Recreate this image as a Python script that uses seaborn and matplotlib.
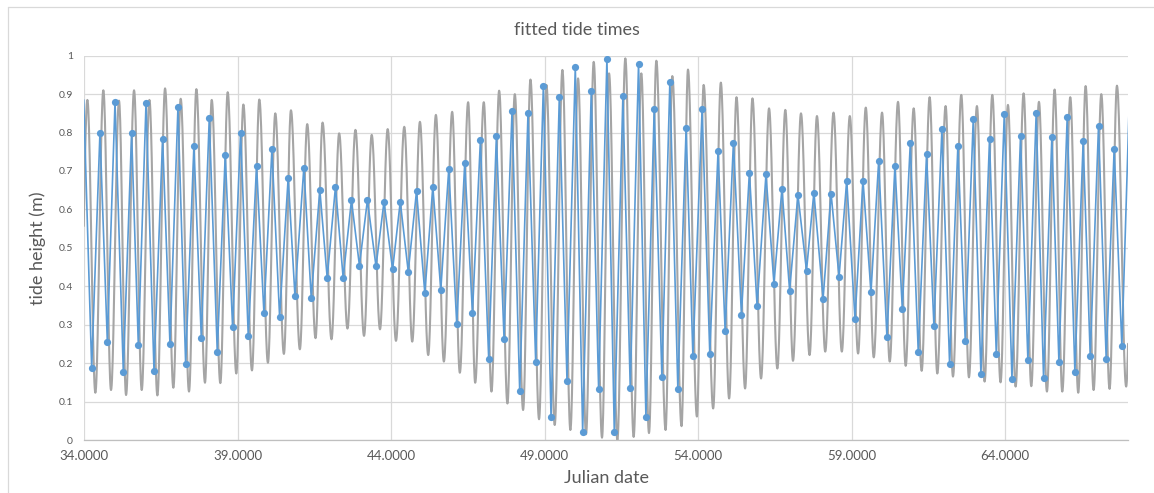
import numpy as np
import pandas as pd
import matplotlib
matplotlib.use("Agg")
import matplotlib.pyplot as plt
from matplotlib.lines import Line2D
import seaborn as sns

# Observed high / low water: time (Julian day) and height (m)
tide_time = [
    33.99, 34.25, 34.52, 34.76, 35.01, 35.28, 35.55, 35.77, 36.02, 36.28,
    36.56, 36.80, 37.06, 37.31, 37.58, 37.82, 38.08, 38.34, 38.60, 38.84,
    39.10, 39.35, 39.62, 39.86, 40.12, 40.37, 40.65, 40.87, 41.16, 41.40,
    41.68, 41.92, 42.19, 42.44, 42.71, 42.97, 43.23, 43.51, 43.77, 44.05,
    44.30, 44.56, 44.83, 45.10, 45.36, 45.62, 45.88, 46.14, 46.40, 46.65,
    46.91, 47.18, 47.43, 47.68, 47.94, 48.19, 48.46, 48.71, 48.96, 49.21,
    49.48, 49.73, 50.00, 50.24, 50.52, 50.76, 51.03, 51.27, 51.55, 51.79,
    52.06, 52.30, 52.57, 52.82, 53.08, 53.34, 53.61, 53.83, 54.13, 54.38,
    54.65, 54.88, 55.15, 55.41, 55.67, 55.92, 56.21, 56.47, 56.73, 56.98,
    57.25, 57.53, 57.77, 58.07, 58.33, 58.59, 58.84, 59.11, 59.37, 59.63,
    59.88, 60.15, 60.41, 60.65, 60.91, 61.17, 61.44, 61.68, 61.94, 62.19,
    62.46, 62.70, 62.96, 63.21, 63.49, 63.71, 63.97, 64.22, 64.50, 64.74,
    65.01, 65.25, 65.52, 65.75, 66.02, 66.27, 66.54, 66.77, 67.04, 67.29,
    67.55, 67.80, 68.03,
]
tide_height = [
    0.885, 0.188, 0.800, 0.256, 0.879, 0.178, 0.798, 0.246, 0.877, 0.180,
    0.784, 0.249, 0.866, 0.199, 0.766, 0.265, 0.838, 0.230, 0.742, 0.293,
    0.800, 0.270, 0.714, 0.330, 0.756, 0.321, 0.683, 0.375, 0.709, 0.370,
    0.651, 0.422, 0.659, 0.422, 0.624, 0.454, 0.624, 0.452, 0.620, 0.444,
    0.620, 0.438, 0.648, 0.382, 0.659, 0.391, 0.706, 0.301, 0.722, 0.330,
    0.780, 0.212, 0.790, 0.264, 0.856, 0.127, 0.851, 0.204, 0.922, 0.060,
    0.893, 0.154, 0.971, 0.021, 0.909, 0.133, 0.992, 0.021, 0.895, 0.135,
    0.979, 0.059, 0.861, 0.165, 0.932, 0.133, 0.812, 0.218, 0.861, 0.225,
    0.753, 0.283, 0.774, 0.326, 0.696, 0.349, 0.691, 0.407, 0.654, 0.389,
    0.638, 0.441, 0.644, 0.368, 0.641, 0.425, 0.675, 0.315, 0.675, 0.385,
    0.725, 0.267, 0.714, 0.341, 0.772, 0.228, 0.745, 0.297, 0.808, 0.197,
    0.766, 0.257, 0.835, 0.173, 0.782, 0.225, 0.848, 0.160, 0.790, 0.207,
    0.852, 0.162, 0.788, 0.204, 0.841, 0.178, 0.777, 0.218, 0.817, 0.210,
    0.758, 0.244, 0.850,
]

# Turning points (successive highs and lows) of the fitted tide curve
fit_time = [
    33.85, 34.11, 34.37, 34.63, 34.88, 35.14, 35.37, 35.63, 35.88, 36.13,
    36.39, 36.64, 36.91, 37.15, 37.42, 37.66, 37.94, 38.16, 38.44, 38.68,
    38.96, 39.19, 39.47, 39.71, 39.99, 40.23, 40.51, 40.74, 41.03, 41.27,
    41.54, 41.77, 42.06, 42.31, 42.58, 42.84, 43.12, 43.37, 43.64, 43.89,
    44.16, 44.43, 44.69, 44.94, 45.21, 45.46, 45.72, 45.99, 46.24, 46.51,
    46.74, 47.02, 47.27, 47.52, 47.79, 48.03, 48.30, 48.54, 48.82, 49.06,
    49.33, 49.58, 49.84, 50.09, 50.35, 50.60, 50.87, 51.10, 51.37, 51.63,
    51.90, 52.15, 52.40, 52.64, 52.94, 53.16, 53.46, 53.67, 53.96, 54.18,
    54.49, 54.74, 55.01, 55.25, 55.53, 55.77, 56.05, 56.31, 56.58, 56.84,
    57.09, 57.35, 57.63, 57.87, 58.14, 58.41, 58.68, 58.94, 59.21, 59.46,
    59.72, 59.99, 60.24, 60.51, 60.76, 61.02, 61.28, 61.54, 61.79, 62.06,
    62.30, 62.57, 62.82, 63.08, 63.33, 63.58, 63.85, 64.09, 64.34, 64.60,
    64.85, 65.10, 65.36, 65.61, 65.86, 66.12, 66.38, 66.62, 66.88, 67.13,
    67.40, 67.64, 67.94, 68.19,
]
fit_height = [
    0.130, 0.885, 0.123, 0.910, 0.130, 0.883, 0.117, 0.910, 0.130, 0.885,
    0.116, 0.915, 0.136, 0.888, 0.126, 0.913, 0.149, 0.885, 0.148, 0.905,
    0.173, 0.873, 0.181, 0.886, 0.201, 0.850, 0.224, 0.858, 0.236, 0.822,
    0.265, 0.826, 0.262, 0.798, 0.290, 0.807, 0.271, 0.794, 0.288, 0.809,
    0.258, 0.815, 0.256, 0.828, 0.221, 0.846, 0.204, 0.854, 0.175, 0.879,
    0.149, 0.879, 0.126, 0.909, 0.095, 0.900, 0.078, 0.938, 0.054, 0.924,
    0.039, 0.963, 0.026, 0.941, 0.015, 0.984, 0.006, 0.954, 0.000, 0.993,
    0.008, 0.954, 0.018, 0.987, 0.026, 0.947, 0.036, 0.964, 0.061, 0.924,
    0.082, 0.930, 0.108, 0.892, 0.134, 0.889, 0.160, 0.863, 0.186, 0.859,
    0.206, 0.850, 0.221, 0.843, 0.230, 0.852, 0.230, 0.843, 0.225, 0.865,
    0.215, 0.852, 0.204, 0.880, 0.193, 0.863, 0.180, 0.892, 0.173, 0.869,
    0.165, 0.898, 0.163, 0.869, 0.152, 0.898, 0.150, 0.872, 0.139, 0.902,
    0.140, 0.880, 0.126, 0.912, 0.126, 0.892, 0.123, 0.921, 0.130, 0.900,
    0.133, 0.922, 0.139, 0.900,
]

x_ticks = [34, 39, 44, 49, 54, 59, 64]
y_ticks = [0, 0.1, 0.2, 0.3, 0.4, 0.5, 0.6, 0.7, 0.8, 0.9, 1.0]
y_tick_labels = ["0", "0.1", "0.2", "0.3", "0.4", "0.5", "0.6", "0.7", "0.8", "0.9", "1"]
x_range = (34, 68)

TEXT = "#595959"
GRID = "#d9d9d9"
BLUE = "#5b9bd5"
GREY = "#a5a5a5"


def tide_curve(times, heights, steps=24):
    """Join successive high and low waters with half-cosine segments."""
    ts, hs = [], []
    for i in range(len(times) - 1):
        s = np.linspace(0.0, 1.0, steps, endpoint=False)
        ts.append(times[i] + (times[i + 1] - times[i]) * s)
        hs.append(heights[i] + (heights[i + 1] - heights[i]) * (1 - np.cos(np.pi * s)) / 2)
    ts.append([times[-1]])
    hs.append([heights[-1]])
    return np.concatenate(ts), np.concatenate(hs)


sns.set_style("white")
plt.rcParams["font.family"] = ["Lato", "DejaVu Sans"]

fit_t, fit_h = tide_curve(fit_time, fit_height)
fitted = pd.DataFrame({"day": fit_t, "height": fit_h})
observed = pd.DataFrame({"day": tide_time, "height": tide_height})
# only points inside the plotted date range get a marker
in_range = [i for i, t in enumerate(tide_time) if x_range[0] <= t <= x_range[1]]

fig = plt.figure(figsize=(11.54, 4.93), dpi=100)
ax = fig.add_axes([84 / 1154, 1 - 440 / 493, (1128 - 84) / 1154, (440 - 55.7) / 493])

sns.lineplot(data=fitted, x="day", y="height", sort=False, estimator=None,
             color=GREY, linewidth=1.5, ax=ax, zorder=2)
sns.lineplot(data=observed, x="day", y="height", sort=False, estimator=None,
             color=BLUE, linewidth=1.2, marker="o", markersize=5.2,
             markeredgewidth=0, markevery=in_range, ax=ax, zorder=3)

ax.set_xlim(*x_range)
ax.set_ylim(0, 1)
ax.set_xticks(x_ticks)
ax.set_xticklabels([f"{v:.4f}" for v in x_ticks])
ax.set_yticks(y_ticks)
ax.set_yticklabels(y_tick_labels)
ax.tick_params(axis="x", length=0, pad=7, labelsize=9.5, labelcolor=TEXT)
ax.tick_params(axis="y", length=0, pad=8, labelsize=7.5, labelcolor=TEXT)
ax.grid(True, color=GRID, linewidth=0.9)
ax.set_axisbelow(True)
for side in ("top", "right", "left"):
    ax.spines[side].set_visible(False)
ax.spines["bottom"].set_color("#bfbfbf")
ax.spines["bottom"].set_linewidth(0.9)
ax.set_xlabel("")
ax.set_ylabel("")

fig.text(0.5, 1 - 30 / 493, "fitted tide times", ha="center", va="center",
         fontsize=13, color=TEXT)
fig.text(606 / 1154, 1 - 478 / 493, "Julian date", ha="center", va="center",
         fontsize=13, color=TEXT)
fig.text(38 / 1154, 1 - 248 / 493, "tide height (m)", ha="center", va="center",
         rotation=90, fontsize=13, color=TEXT)

# chart area border
fig.add_artist(Line2D([8 / 1154, 8 / 1154], [0, 1 - 7 / 493], color=GRID, linewidth=0.9))
fig.add_artist(Line2D([8 / 1154, 1], [1 - 7 / 493, 1 - 7 / 493], color=GRID, linewidth=0.9))

fig.savefig("out.png", dpi=100)
